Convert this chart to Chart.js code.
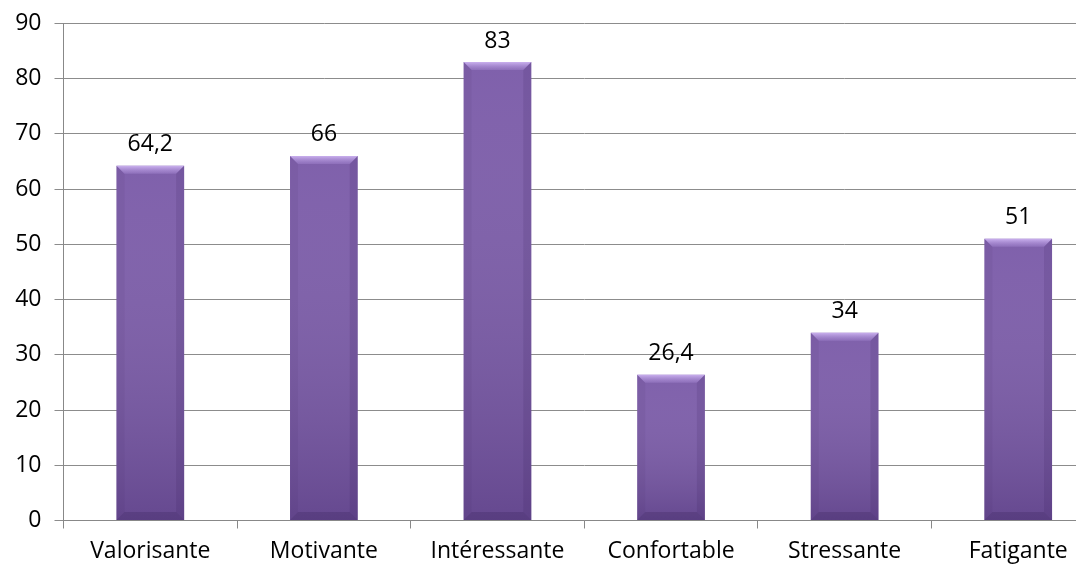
<!DOCTYPE html>
<html>
<head>
<meta charset="utf-8">
<script src="https://cdn.jsdelivr.net/npm/chart.js@4"></script>
<style>
  html, body { margin: 0; padding: 0; background: #fff; overflow: hidden; }
  #wrap { width: 1105px; height: 575px; }
</style>
</head>
<body>
<div id="wrap"><canvas id="chart"></canvas></div>
<script>
// chart data
const categories = ['Valorisante', 'Motivante', 'Intéressante', 'Confortable', 'Stressante', 'Fatigante'];
const values = [64.2, 66, 83, 26.4, 34, 51];
const yTicks = [0, 10, 20, 30, 40, 50, 60, 70, 80, 90];

const FONT = "'Open Sans', Lato, sans-serif";
const FONT_SIZE = 23;

// purple gradient across each bar
function barFill(context) {
    const { chart } = context;
    const el = context.element;
    if (!chart.chartArea || !el || el.x === undefined) return '#7a5aa8';
    const g = chart.ctx.createLinearGradient(el.x - el.width / 2, 0, el.x + el.width / 2, 0);
    g.addColorStop(0, '#6a4d96');
    g.addColorStop(0.1, '#7c5daf');
    g.addColorStop(0.5, '#8263b4');
    g.addColorStop(0.9, '#7a5bab');
    g.addColorStop(1, '#5e4388');
    return g;
}

// bevel highlight + darker bottom, uses bar positions from the library
const bevelPlugin = {
    id: 'bevel',
    afterDatasetsDraw(chart) {
        const ctx = chart.ctx;
        chart.getDatasetMeta(0).data.forEach(bar => {
            const l = bar.x - bar.width / 2, r = bar.x + bar.width / 2;
            const t = bar.y, b = bar.base;
            const h = b - t;
            ctx.save();
            // vertical darkening toward the bottom
            const vg = ctx.createLinearGradient(0, t, 0, b);
            vg.addColorStop(0, 'rgba(255,255,255,0.04)');
            vg.addColorStop(1, 'rgba(40,20,70,0.25)');
            ctx.fillStyle = vg;
            ctx.fillRect(l, t, r - l, h);
            // top bevel
            const bv = 8;
            ctx.beginPath();
            ctx.moveTo(l, t);
            ctx.lineTo(r, t);
            ctx.lineTo(r - bv, t + bv);
            ctx.lineTo(l + bv, t + bv);
            ctx.closePath();
            const tg = ctx.createLinearGradient(0, t, 0, t + bv);
            tg.addColorStop(0, 'rgba(215,190,250,0.85)');
            tg.addColorStop(1, 'rgba(170,140,215,0.35)');
            ctx.fillStyle = tg;
            ctx.fill();
            // side bevels, faint
            ctx.beginPath();
            ctx.moveTo(l, t); ctx.lineTo(l + bv, t + bv); ctx.lineTo(l + bv, b - bv); ctx.lineTo(l, b);
            ctx.closePath();
            ctx.fillStyle = 'rgba(50,25,80,0.07)';
            ctx.fill();
            ctx.beginPath();
            ctx.moveTo(r, t); ctx.lineTo(r - bv, t + bv); ctx.lineTo(r - bv, b - bv); ctx.lineTo(r, b);
            ctx.closePath();
            ctx.fillStyle = 'rgba(40,20,70,0.12)';
            ctx.fill();
            // bottom bevel
            ctx.beginPath();
            ctx.moveTo(l, b); ctx.lineTo(l + bv, b - bv); ctx.lineTo(r - bv, b - bv); ctx.lineTo(r, b);
            ctx.closePath();
            ctx.fillStyle = 'rgba(40,20,70,0.2)';
            ctx.fill();
            ctx.restore();
        });
    }
};

// value labels above the bars
const valueLabels = {
    id: 'valueLabels',
    afterDatasetsDraw(chart) {
        const ctx = chart.ctx;
        ctx.save();
        ctx.font = FONT_SIZE + 'px ' + FONT;
        ctx.fillStyle = '#000';
        ctx.textAlign = 'center';
        ctx.textBaseline = 'middle';
        chart.getDatasetMeta(0).data.forEach((bar, i) => {
            ctx.fillText(String(values[i]).replace('.', ','), bar.x, bar.y - 21);
        });
        ctx.restore();
    }
};

const ctx = document.getElementById('chart').getContext('2d');
new Chart(ctx, {
    type: 'bar',
    data: {
        labels: categories,
        datasets: [{
            data: values,
            backgroundColor: barFill,
            borderWidth: 0,
            categoryPercentage: 1,
            barPercentage: 0.39
        }]
    },
    options: {
        responsive: true,
        maintainAspectRatio: false,
        animation: false,
        layout: { padding: { top: 12, right: 0, left: 0, bottom: 0 } },
        plugins: { legend: { display: false }, tooltip: { enabled: false } },
        scales: {
            x: {
                grid: { display: true, drawOnChartArea: false, drawTicks: true, tickLength: 8, color: '#888', offset: true },
                border: { display: true, color: '#888' },
                ticks: { color: '#000', font: { family: FONT, size: FONT_SIZE }, padding: 9 },
                afterFit(scale) { scale.height = 54.5; }
            },
            y: {
                min: 0,
                max: 90,
                afterBuildTicks(scale) { scale.ticks = yTicks.map(v => ({ value: v })); },
                grid: { color: '#8c8c8c', tickLength: 9, lineWidth: 1 },
                border: { display: true, color: '#888' },
                ticks: { color: '#000', font: { family: FONT, size: FONT_SIZE, lineHeight: 0.9 }, padding: 13 },
                afterFit(scale) { scale.width = 63.5; }
            }
        }
    },
    plugins: [bevelPlugin, valueLabels]
});
</script>
</body>
</html>
